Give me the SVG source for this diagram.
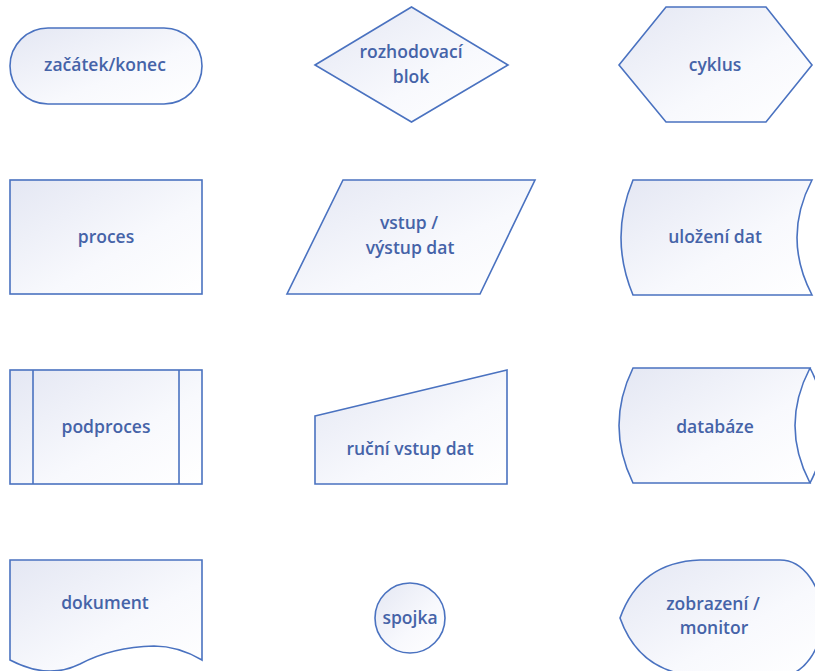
<svg xmlns="http://www.w3.org/2000/svg" width="815" height="671" viewBox="0 0 815 671">
<defs>
<linearGradient id="g" x1="0" y1="0" x2="1" y2="1">
<stop offset="0" stop-color="#e4e7f3"/>
<stop offset="0.6" stop-color="#f8f9fd"/>
<stop offset="1" stop-color="#ffffff"/>
</linearGradient>
</defs>
<style>
.s{fill:url(#g);stroke:#4a72c0;stroke-width:1.6;stroke-linejoin:miter}
.l{fill:none;stroke:#4a72c0;stroke-width:1.6}
text{font-family:"Open Sans","Noto Sans",sans-serif;font-size:17.5px;font-weight:600;fill:#4563a8;text-anchor:middle}
</style>
<rect width="815" height="671" fill="#ffffff"/>
<g id="terminator">
<rect class="s" x="10" y="28" width="192" height="76" rx="38" ry="38"/>
<text x="105" y="71">začátek/konec</text>
</g>
<g id="decision">
<polygon class="s" points="315,65 411.5,7 508,65 411.5,122"/>
<text x="411" y="58">rozhodovací</text>
<text x="411" y="83">blok</text>
</g>
<g id="loop">
<polygon class="s" points="619,65 666,7 766,7 812,65 766,122 666,122"/>
<text x="715" y="71">cyklus</text>
</g>
<g id="process">
<rect class="s" x="10" y="180" width="192" height="114"/>
<text x="106" y="243">proces</text>
</g>
<g id="io">
<polygon class="s" points="343,180 535,180 480,294 287,294"/>
<text x="409" y="229">vstup /</text>
<text x="410" y="254">výstup dat</text>
</g>
<g id="stored-data">
<path class="s" d="M633,180 L812,180 Q782,237.5 812,295 L633,295 Q609,237.5 633,180 Z"/>
<text x="715" y="243">uložení dat</text>
</g>
<g id="subprocess">
<rect class="s" x="10" y="370" width="192" height="114"/>
<line class="l" x1="33" y1="370" x2="33" y2="484"/>
<line class="l" x1="179" y1="370" x2="179" y2="484"/>
<text x="106" y="433">podproces</text>
</g>
<g id="manual-input">
<polygon class="s" points="315,416 507,370 507,484 315,484"/>
<text x="410" y="455">ruční vstup dat</text>
</g>
<g id="database">
<path class="s" d="M633,368 L810,368 Q780,425.5 810,483 L633,483 Q605,425.5 633,368 Z"/>
<path class="l" d="M810,368 Q840,425.5 810,483"/>
<text x="715" y="433">databáze</text>
</g>
<g id="document">
<path class="s" d="M10,560 L202,560 L202,660 Q178,646 154,646 Q112,647 80,664 Q48,680 10,660 Z"/>
<text x="105" y="609">dokument</text>
</g>
<g id="connector">
<circle class="s" cx="410" cy="618" r="35"/>
<text x="410" y="624">spojka</text>
</g>
<g id="display">
<path class="s" d="M620,618 Q640,562 700,560 L780,560 A42,58 0 0 1 780,676 L700,676 Q640,674 620,618 Z"/>
<text x="713" y="610">zobrazení /</text>
<text x="714" y="634">monitor</text>
</g>
</svg>
